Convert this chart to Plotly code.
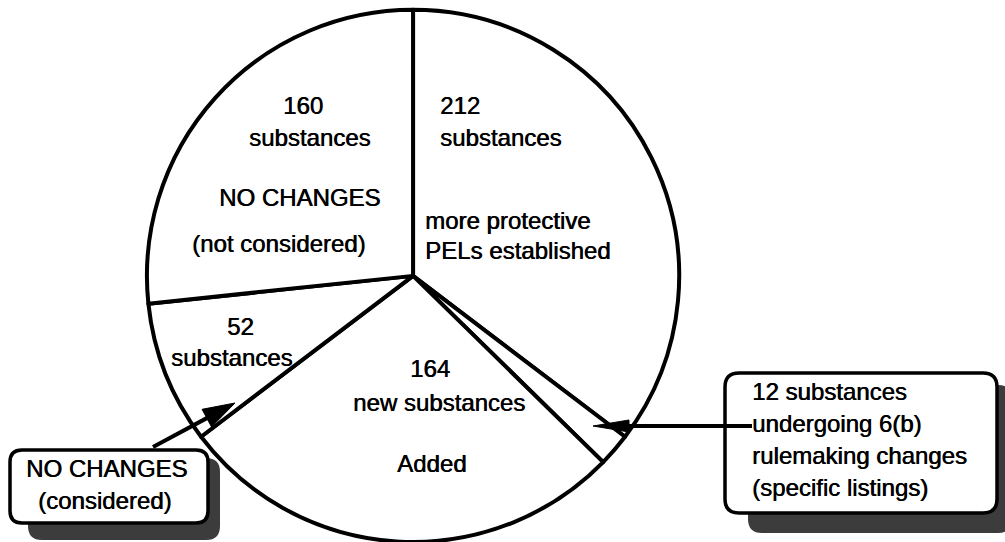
import math

import plotly.graph_objects as go

W, H = 1005, 542

# slices, clockwise from 12 o'clock
slice_names = [
    "more protective PELs established",
    "undergoing 6(b) rulemaking changes",
    "new substances added",
    "no changes (considered)",
    "no changes (not considered)",
]
slice_counts = [212, 12, 164, 52, 160]

FONT = "Liberation Sans, Arial, Helvetica, sans-serif"
FS = 24
INK = "black"
SHADOW = "#3c3c3c"


def rounded_box(x0, y0, x1, y1, r):
    return (
        f"M{x0 + r},{y0} L{x1 - r},{y0} Q{x1},{y0} {x1},{y0 + r} "
        f"L{x1},{y1 - r} Q{x1},{y1} {x1 - r},{y1} L{x0 + r},{y1} "
        f"Q{x0},{y1} {x0},{y1 - r} L{x0},{y0 + r} Q{x0},{y0} {x0 + r},{y0} Z"
    )


def arrow(x0, y0, x1, y1, head_len, head_half):
    """Line from tail (x0, y0) to tip (x1, y1) with a filled head."""
    d = math.hypot(x1 - x0, y1 - y0)
    ux, uy = (x1 - x0) / d, (y1 - y0) / d
    bx, by = x1 - ux * head_len, y1 - uy * head_len
    px, py = -uy, ux
    line = dict(type="line", x0=x0, y0=y0, x1=bx, y1=by,
                line=dict(color=INK, width=4))
    head = dict(
        type="path",
        path=(f"M{x1},{y1} L{bx + px * head_half},{by + py * head_half} "
              f"L{bx - px * head_half},{by - py * head_half} Z"),
        fillcolor=INK, line=dict(color=INK, width=1),
    )
    return [line, head]


fig = go.Figure()

fig.add_trace(
    go.Pie(
        labels=slice_names,
        values=slice_counts,
        sort=False,
        direction="clockwise",
        rotation=0,
        marker=dict(colors=["white"] * len(slice_counts), line=dict(color=INK, width=4)),
        textinfo="none",
        hoverinfo="label+value",
        showlegend=False,
        domain=dict(x=[0.141, 0.681], y=[0.0, 0.982]),
    )
)

shapes = []
# callout boxes with drop shadows
shapes.append(dict(type="path", path=rounded_box(28, 458, 220, 540, 14),
                   fillcolor=SHADOW, line=dict(width=0), layer="below"))
shapes.append(dict(type="path", path=rounded_box(10, 450, 208, 523, 12),
                   fillcolor="white", line=dict(color=INK, width=3.5)))
shapes.append(dict(type="path", path=rounded_box(748, 385, 1012, 533, 14),
                   fillcolor=SHADOW, line=dict(width=0), layer="below"))
shapes.append(dict(type="path", path=rounded_box(725, 373, 997, 513, 14),
                   fillcolor="white", line=dict(color=INK, width=3.5)))

shapes += arrow(153, 447, 235, 403, 32, 10)
shapes += arrow(752, 426, 593, 426, 36, 6)

n212, n12, n164, n52, n160 = [str(v) for v in slice_counts]

texts = [
    # (text, x, y, xanchor)
    (n160, 303, 105, "center"),
    ("substances", 309, 137, "center"),
    ("NO CHANGES", 299, 197, "center"),
    ("(not considered)", 278, 243, "center"),
    (n212, 438, 105, "left"),
    ("substances", 438, 137, "left"),
    ("more protective", 423, 220, "left"),
    ("PELs established", 423, 250, "left"),
    (n52, 240, 326, "center"),
    ("substances", 231, 357, "center"),
    (n164, 430, 368, "center"),
    ("new substances", 439, 402, "center"),
    ("Added", 431, 463, "center"),
    ("NO CHANGES", 106, 468, "center"),
    ("(considered)", 104, 500, "center"),
    (f"{n12} substances", 750, 391, "left"),
    ("undergoing 6(b)", 750, 423, "left"),
    ("rulemaking changes", 750, 455, "left"),
    ("(specific listings)", 750, 487, "left"),
]

annotations = [
    dict(text=t, x=x, y=y, xref="x", yref="y", xanchor=anchor, yanchor="middle",
         showarrow=False,
         font=dict(family=FONT, size=FS, color=INK, shadow="0.6px 0 0 black"))
    for t, x, y, anchor in texts
]

fig.update_layout(
    width=W,
    height=H,
    margin=dict(l=0, r=0, t=0, b=0),
    paper_bgcolor="white",
    plot_bgcolor="white",
    xaxis=dict(range=[0, W], visible=False, fixedrange=True, domain=[0, 1]),
    yaxis=dict(range=[H, 0], visible=False, fixedrange=True, domain=[0, 1]),
    shapes=shapes,
    annotations=annotations,
    font=dict(family=FONT),
)

# drop the browser's default body margin so the figure sits at the page origin
fig.write_html(
    "out.html",
    config={"displayModeBar": False},
    post_script="document.body.style.margin = '0';",
)
